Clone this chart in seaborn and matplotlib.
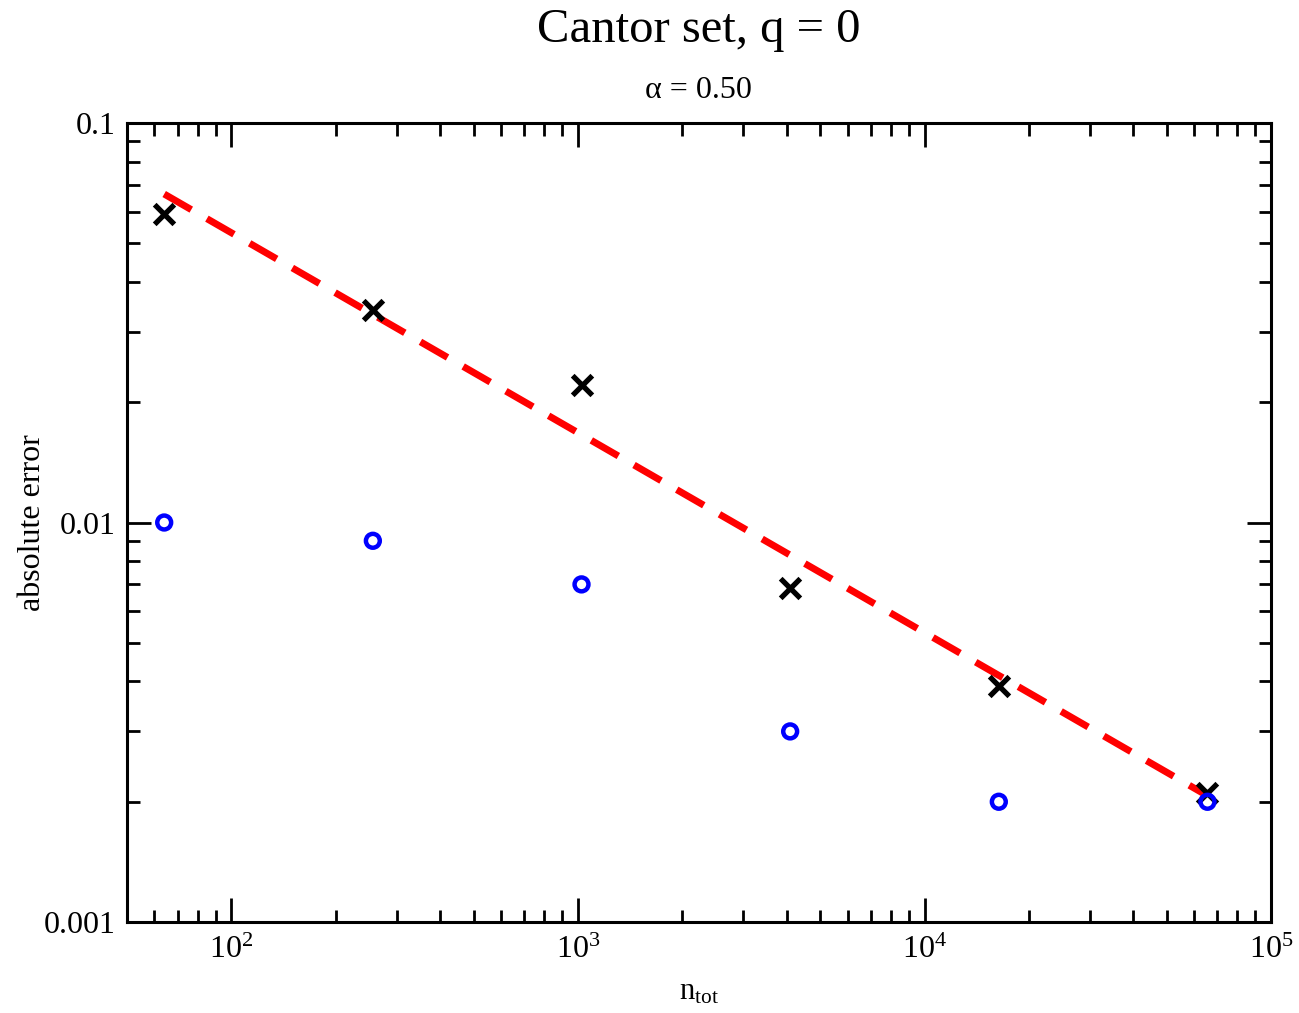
import matplotlib
matplotlib.use("Agg")
import matplotlib.pyplot as plt
import numpy as np
import pandas as pd
import seaborn as sns

# data
n_tot = [64, 256, 1024, 4096, 16384, 65536]
err_cross = [0.0591, 0.034, 0.0221, 0.00685, 0.0039, 0.0021]
err_circle = [0.0100, 0.0090, 0.0070, 0.0030, 0.0020, 0.0020]
fit_n = [64, 65536]
fit_err = [0.0664, 0.00207]

y_ticks = [0.001, 0.01, 0.1]
y_ticklabels = ["0.001", "0.01", "0.1"]

sns.set_style("ticks")
plt.rcParams.update({
    "font.family": ["Liberation Serif", "DejaVu Serif"],
    "mathtext.fontset": "custom",
    "mathtext.rm": "Liberation Serif",
    "mathtext.it": "Liberation Serif:italic",
    "mathtext.bf": "Liberation Serif:bold",
    "axes.linewidth": 2.2,
    "axes.edgecolor": "k",
    "text.color": "k",
    "axes.labelcolor": "k",
    "xtick.color": "k",
    "ytick.color": "k",
})

df_cross = pd.DataFrame({"n": n_tot, "err": err_cross})
df_circle = pd.DataFrame({"n": n_tot, "err": err_circle})
df_fit = pd.DataFrame({"n": fit_n, "err": fit_err})

fig = plt.figure(figsize=(12.99, 10.13), dpi=100)
ax = fig.add_axes([0.0978, 0.0898, 0.8807, 0.7888])

sns.lineplot(data=df_fit, x="n", y="err", ax=ax, color="#ff0000",
             linewidth=5, dashes=False, zorder=1)
ax.lines[0].set_dashes((4.5, 2.6))
sns.scatterplot(data=df_cross, x="n", y="err", ax=ax, marker="x", s=200,
                color="k", linewidth=3.8, zorder=2)
sns.scatterplot(data=df_circle, x="n", y="err", ax=ax, marker="o", s=100,
                facecolor="none", edgecolor="#0000ff", linewidth=3.2, zorder=3)

ax.set_xscale("log")
ax.set_yscale("log")
ax.set_xlim(50, 1e5)
ax.set_ylim(0.001, 0.1)
ax.set_yticks(y_ticks)
ax.set_yticklabels(y_ticklabels)

ax.tick_params(which="both", direction="in", top=True, right=True, width=2.0,
               labelsize=23, pad=8)
ax.tick_params(which="major", length=17)
ax.tick_params(which="minor", length=9)
ax.tick_params(axis="x", which="major", pad=10)

ax.set_xlabel(r"n$_{\mathrm{tot}}$", fontsize=22, labelpad=9)
ax.set_ylabel("absolute error", fontsize=23, labelpad=-2)

fig.text(0.538, 0.97, "Cantor set, q = 0", ha="center", va="center", fontsize=35)
fig.text(0.538, 0.911, "\u03b1 = 0.50", ha="center", va="center", fontsize=23)

fig.savefig("out.png", dpi=100)
